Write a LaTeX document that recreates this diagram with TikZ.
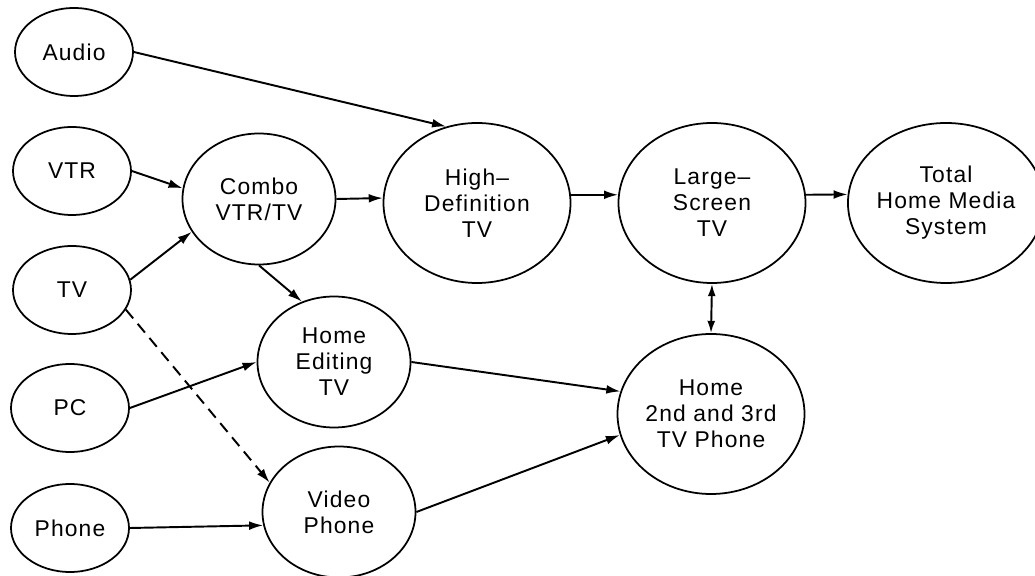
\documentclass[tikz,border=0pt]{standalone}
\usepackage{fontspec}
\setmainfont{Liberation Sans}[LetterSpace=5]
\usetikzlibrary{shapes.geometric,arrows.meta}

\tikzset{
  bubble/.style={draw, ellipse, line width=1pt, inner sep=0pt, align=center,
    font=\fontsize{13}{14.8}\selectfont},
  srcnode/.style={bubble, minimum width=2.36cm, minimum height=1.76cm},
  midnode/.style={bubble, minimum width=3.06cm, minimum height=2.62cm},
  bignode/.style={bubble, minimum width=3.74cm, minimum height=3.2cm},
  flow/.style={line width=1.1pt, -{Latex[length=8pt,width=5pt]}},
}

\begin{document}
\begin{tikzpicture}
  \useasboundingbox (0,0) rectangle (20.7,11.52);

  % sources
  \node[srcnode] (audio) at (1.48,10.48) {Audio};
  \node[srcnode] (vtr)   at (1.44,8.10)  {VTR};
  \node[srcnode] (tv)    at (1.44,5.72)  {TV};
  \node[srcnode] (pc)    at (1.40,3.36)  {PC};
  \node[srcnode] (phone) at (1.40,0.96)  {Phone};

  % second stage
  \node[midnode] (combo)  at (5.18,7.54) {Combo\\VTR/TV};
  \node[midnode] (edit)   at (6.68,4.28) {Home\\Editing\\TV};
  \node[midnode] (vphone) at (6.78,1.28) {Video\\Phone};

  % later stages
  \node[bignode] (hdtv)  at (9.54,7.46)  {High--\\Definition\\TV};
  \node[bignode] (large) at (14.24,7.46) {Large--\\Screen\\TV};
  \node[bignode, minimum width=3.52cm] (total) at (18.92,7.46) {Total\\Home Media\\System};
  \node[bignode] (tvphone) at (14.22,3.24) {Home\\2nd and 3rd\\TV Phone};

  \draw[flow] (audio.east) -- (hdtv.112);
  \draw[flow] (vtr.east) -- (combo.172);
  \draw[flow] (tv.10) -- (combo.206);
  \draw[flow, dash pattern=on 6.5pt off 4pt] (tv.-20) -- (vphone.157);
  \draw[flow] (pc.east) -- (edit.west);
  \draw[flow] (phone.east) -- (vphone.190);
  \draw[flow] (combo.east) -- (hdtv.177);
  \draw[flow] (combo.south) -- (edit.118);
  \draw[flow] (edit.east) -- (tvphone.166);
  \draw[flow] (vphone.east) -- (tvphone.193);
  \draw[flow] (hdtv.5) -- (large.175);
  \draw[flow] (large.5) -- (total.175);
  \draw[line width=1.1pt, {Latex[length=7pt,width=4.5pt]}-{Latex[length=7pt,width=4.5pt]}]
    (large.south) -- (tvphone.north);
\end{tikzpicture}
\end{document}
